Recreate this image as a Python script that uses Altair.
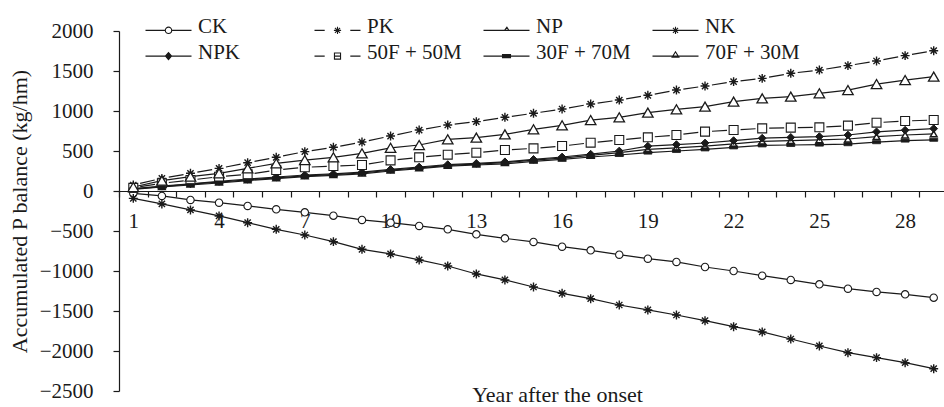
import altair as alt
import pandas as pd

# ---------------- data ----------------
years = list(range(1, 30))
series_names = ["CK", "PK", "NP", "NK", "NPK", "50F + 50M", "30F + 70M", "70F + 30M"]

ck = [-29, -62, -112, -146, -187, -229, -267, -308, -362, -396, -437, -479, -542, -592, -637,
      -696, -742, -796, -846, -887, -950, -1000, -1058, -1112, -1167, -1221, -1262, -1292, -1333]
pk = [75, 158, 221, 283, 354, 421, 492, 546, 612, 687, 762, 825, 867, 921, 971,
      1025, 1087, 1137, 1196, 1262, 1312, 1367, 1408, 1471, 1512, 1567, 1625, 1692, 1754]
np_ = [25, 55, 85, 110, 140, 165, 190, 205, 225, 260, 290, 320, 335, 355, 385,
       410, 445, 480, 520, 540, 560, 590, 620, 630, 640, 650, 680, 700, 715]
nk = [-92, -162, -237, -312, -396, -479, -550, -633, -729, -787, -862, -937, -1037, -1112, -1200,
      -1279, -1346, -1425, -1487, -1550, -1621, -1696, -1762, -1850, -1937, -2021, -2083, -2146, -2221]
npk = [30, 60, 90, 120, 150, 175, 200, 215, 235, 270, 300, 330, 345, 365, 395,
       425, 460, 500, 560, 580, 600, 630, 660, 670, 680, 700, 740, 760, 780]
f50m50 = [40, 96, 137, 179, 208, 262, 296, 312, 325, 383, 421, 454, 479, 512, 533,
          562, 604, 637, 671, 700, 742, 762, 783, 792, 796, 817, 854, 875, 887]
f30m70 = [20, 50, 75, 100, 130, 155, 180, 195, 215, 250, 280, 310, 325, 340, 370,
          395, 425, 450, 480, 500, 520, 545, 570, 575, 580, 585, 610, 630, 640]
f70m30 = [50, 129, 179, 221, 283, 346, 387, 421, 471, 540, 575, 646, 667, 708, 771,
          821, 887, 921, 979, 1021, 1054, 1117, 1158, 1179, 1221, 1262, 1337, 1387, 1429]

values_by_series = {
    "CK": ck, "PK": pk, "NP": np_, "NK": nk, "NPK": npk,
    "50F + 50M": f50m50, "30F + 70M": f30m70, "70F + 30M": f70m30,
}
dashed_series = ["PK", "50F + 50M"]
solid_series = [s for s in series_names if s not in dashed_series]

y_ticks = [-2500, -2000, -1500, -1000, -500, 0, 500, 1000, 1500, 2000]
x_tick_positions = [i + 0.5 for i in range(0, 29)]
x_label_years = [1, 4, 7, 10, 13, 16, 19, 22, 25, 28]

rows = []
for s in series_names:
    for yr, v in zip(years, values_by_series[s]):
        rows.append({"series": s, "year": yr, "value": v})
df = pd.DataFrame(rows)

seg_rows = []
for s in dashed_series:
    vals = values_by_series[s]
    for i in range(len(years) - 1):
        seg_rows.append({"series": s, "year": years[i], "year2": years[i + 1],
                         "value": vals[i], "value2": vals[i + 1]})
seg_df = pd.DataFrame(seg_rows)

# ---------------- styling ----------------
FONT = "Liberation Serif"
INK = "#1a1a1a"

x_enc = alt.X(
    "year:Q",
    scale=alt.Scale(domain=[0.5, 29.36], nice=False, zero=False),
    axis=alt.Axis(
        values=sorted(x_tick_positions + x_label_years),
        tickOpacity={"condition": {"test": "datum.value % 1 == 0", "value": 0}, "value": 1},
        labelExpr="datum.value % 3 == 1 ? format(datum.value, 'd') : ''",
        labelOverlap=False, labelFlush=False, labelBound=False,
        offset=-200, tickSize=6, tickWidth=1.2, tickColor=INK,
        domainColor=INK, domainWidth=1.2, grid=False,
        labelFont=FONT, labelFontSize=21, labelColor=INK, labelPadding=13,
        title="Year after the onset", titleFont=FONT, titleFontSize=22,
        titleFontWeight="normal", titleColor=INK,
        titleX=438, titleY=210, titleBaseline="alphabetic", titleAnchor="middle",
    ),
)
y_enc = alt.Y(
    "value:Q",
    scale=alt.Scale(domain=[-2500, 2000], nice=False, zero=False),
    axis=alt.Axis(
        values=y_ticks, format="d", tickSize=6, tickWidth=1.2, tickColor=INK,
        domainColor=INK, domainWidth=1.2, grid=False,
        labelFont=FONT, labelFontSize=21, labelColor=INK, labelPadding=20,
        title="Accumulated P balance (kg/hm)", titleFont=FONT, titleFontSize=22,
        titleFontWeight="normal", titleColor=INK, titlePadding=8,
    ),
)

base = alt.Chart(df)

solid_lines = base.transform_filter(
    alt.FieldOneOfPredicate(field="series", oneOf=solid_series)
).mark_line(color=INK, strokeWidth=1.2).encode(x=x_enc, y=y_enc, detail="series:N")

dashed_lines = alt.Chart(seg_df).mark_rule(
    color=INK, strokeWidth=1.2, strokeDash=[0, 7, 15, 100]
).encode(x=x_enc, x2="year2:Q", y=y_enc, y2="value2:Q")

ASTER = "M-1,0H1M0,-1V1M-0.7,-0.7L0.7,0.7M-0.7,0.7L0.7,-0.7"
RECT = "M-1,-0.38H1V0.38H-1Z"
point_styles = {
    "CK": dict(shape="circle", size=55, fill="white", strokeWidth=1.1),
    "PK": dict(shape=ASTER, size=80, fill="transparent", strokeWidth=1.4),
    "NP": dict(shape="triangle-up", size=45, fill="white", strokeWidth=1.5),
    "NK": dict(shape=ASTER, size=80, fill="transparent", strokeWidth=1.4),
    "NPK": dict(shape="diamond", size=60, fill=INK, strokeWidth=1.0),
    "50F + 50M": dict(shape="square", size=80, fill="white", strokeWidth=1.1),
    "30F + 70M": dict(shape=RECT, size=64, fill=INK, strokeWidth=0.8),
    "70F + 30M": dict(shape="triangle-up", size=110, fill="white", strokeWidth=1.3),
}
point_layers = []
for s in series_names:
    st = point_styles[s]
    point_layers.append(
        base.transform_filter(alt.datum.series == s).mark_point(
            shape=st["shape"], size=st["size"], fill=st["fill"], stroke=INK,
            strokeWidth=st["strokeWidth"], opacity=1, filled=True,
        ).encode(x=x_enc, y=y_enc)
    )

# legend symbols: line + marker drawn as one custom path (units of 8 px)
L = 0.45
def fmt(v):
    return f"{v:.3f}".rstrip("0").rstrip(".")
def aster(r=0.45, d=0.32):
    return (f"M{fmt(-r)},{fmt(L)}H{fmt(r)}M0,{fmt(L-r)}V{fmt(L+r)}"
            f"M{fmt(-d)},{fmt(L-d)}L{fmt(d)},{fmt(L+d)}M{fmt(-d)},{fmt(L+d)}L{fmt(d)},{fmt(L-d)}")
full_line = f"M-2.875,{fmt(L)}H2.875"
dashes = f"M-2.875,{fmt(L)}H-1.6M1.6,{fmt(L)}H2.875"
legend_paths = [
    f"M-2.875,{fmt(L)}H-0.4M0.4,{fmt(L)}H2.875M0.4,{fmt(L)}A0.4,0.4,0,1,1,-0.4,{fmt(L)}A0.4,0.4,0,1,1,0.4,{fmt(L)}",
    dashes + aster(),
    full_line + f"M-0.25,{fmt(L)}L0.3,{fmt(L)}L0.05,{fmt(L-0.38)}Z",
    full_line + aster(),
    full_line + f"M0,{fmt(L-0.45)}L0.38,{fmt(L)}L0,{fmt(L+0.45)}L-0.38,{fmt(L)}Z",
    dashes + f"M-0.38,{fmt(L-0.38)}H0.38V{fmt(L+0.38)}H-0.38ZM-0.38,{fmt(L)}H0.38",
    full_line + f"M-0.5,{fmt(L-0.19)}H0.5V{fmt(L+0.19)}H-0.5Z",
    full_line + f"M-0.42,{fmt(L+0.15)}L0.42,{fmt(L+0.15)}L0,{fmt(L-0.55)}Z",
]
legend_fills = ["white", "transparent", "transparent", "transparent",
                INK, "white", INK, "white"]
legend_strokes = [INK] * len(series_names)

legend_def = alt.Legend(
    orient="none", legendX=39, legendY=-15, columns=4, title=None,
    direction="horizontal", gridAlign="all",
    symbolSize=256, symbolStrokeWidth=1.1, symbolOpacity=1,
    labelFont=FONT, labelFontSize=21, labelColor=INK, labelOffset=19,
    columnPadding=19, rowPadding=4, padding=0, labelLimit=0,
)
legend_layer = base.mark_point(
    filled=True, opacity=0, strokeWidth=1.1
).encode(
    x=x_enc, y=y_enc,
    shape=alt.Shape("series:N", scale=alt.Scale(domain=series_names, range=legend_paths),
                    legend=legend_def),
    fill=alt.Fill("series:N", scale=alt.Scale(domain=series_names, range=legend_fills),
                  legend=legend_def),
    stroke=alt.Stroke("series:N", scale=alt.Scale(domain=series_names, range=legend_strokes),
                      legend=legend_def),
)

chart = alt.layer(solid_lines, dashed_lines, *point_layers, legend_layer).properties(
    width=825, height=360,
    padding={"left": 119, "top": 31, "right": 0, "bottom": 16},
    autosize=alt.AutoSizeParams(type="none"),
    background="white",
).configure_view(stroke=None)

chart.save("out.html", embed_options={"renderer": "svg", "actions": False})
